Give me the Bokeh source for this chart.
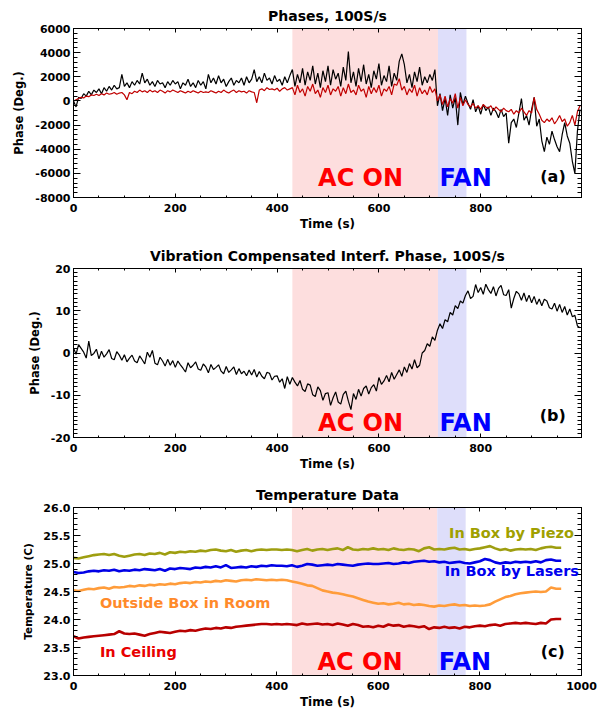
from bokeh.plotting import figure
from bokeh.layouts import column
from bokeh.models import (BoxAnnotation, Label, LinearAxis, SingleIntervalTicker,
                          PrintfTickFormatter, CustomJSTickFormatter, Range1d)
from bokeh.embed import file_html
from bokeh.resources import INLINE

FONT = "DejaVu Sans"

# ---------------- data ----------------
# Panel (a): phases sampled every 5 s, 0..995 s
t_a = list(range(0, 1000, 5))
phase_black = [
    0, -500, 300, 200, 600, 400, 800, 500, 900, 700, 1000, 600, 1100, 800, 1200, 900, 1300, 1000, 1100, 2200,
    1200, 1500, 1100, 1600, 1300, 1700, 1400, 2300,
    1500, 1800, 1300, 1600, 1200, 1700, 1400, 1500, 1100, 1600, 1300, 1700,
    1400, 1600, 1000, 1500, 1300, 1800, 1200, 1500, 1100, 1700, 1300, 1600, 1000,
    2200, 1500, 1900, 1400, 2100, 1500, 1800, 1200, 1600, 1900, 1300, 1700, 1500, 1900, 1300, 2000, 1500, 1800, 2600,
    1600, 2000, 1500, 2300, 1700, 1900, 1400, 2100, 1600, 1800, 1300, 2000, 1500, 2100,
    2600, 1200, 2200, 1500, 2700, 1300, 2400, 1700, 2900, 1400, 2300, 1100, 2500, 1600, 2900, 1300, 2600, 1800, 2300, 1200,
    2800, 1700, 4100, 1500, 2400, 1200, 2700, 1600, 3000, 1400, 2200, 1100, 2500, 1800, 3100, 1300, 2100, 1600, 2900, 1200,
    2300, 1700, 3300, 3900, 3000, 1500, 2200, 1100, 2400, 1600, 2800, 1300, 2000, 1500, 2200, 1700, 2600,
    -400, 600, -800, 200, -1200, 500, -600, 300, -2000, 700, -300, 400,
    -200, -700, 100, -900, -400, -1100, -300, -800, -500, -1200, -600, -900, -1400, -700, -1300, -1000,
    -3500, -1800, -1500, -2200, -1000, 200, -1600, -1200, -2000, -700, 300, -2100, -1500, -3300, -4200,
    -3000, -3600, -2500, -3200, -3800, -4200, -2800, -1800, -2900, -3500, -5000, -6000, -2500, -700,
]
phase_red = [
    0, 100, 200, 300, 250, 400, 350, 500, 450, 550, 450, 600, 500, 650, 550, 600, 700, 550, 650, 700,
    500, 100, 700, 600, 800, 700, 900, 750,
    850, 700, 900, 750, 850, 700, 900, 800, 650, 850, 750, 900,
    800, 700, 850, 750, 650, 800, 700, 850, 750, 650, 800, 700, 750,
    700, 850, 750, 650, 800, 700, 900, 750, 650, 800, 900, 700, 850, 750, 800, 650, 850, 750, 700,
    -150, 900, 1000, 850, 1100, 950, 1000, 900, 1050, 800, 1000, 1100, 900, 1000,
    1100, 500, 1300, 700, 1000, 400, 1200, 800, 1400, 600,
    900, 300, 1100, 700, 1300, 500, 1000, 800, 1200, 400,
    1100, 600, 1400, 700, 900, 500, 1300, 800, 1000, 300,
    1200, 600, 1100, 700, 1300, 400, 1000, 800, 1200, 500,
    1400, 1300, 1850, 900, 1200, 500, 1000, 700, 1300, 400,
    1100, 600, 900, 500, 1200, 700, 1000,
    0, 500, -300, 400, -500, 200, -200, 600, -600, 300, -400, 100,
    -300, -500, -200, -600, -400, -700, -300, -500, -600, -400, -800, -500, -700, -900, -600, -800,
    -900, -700, -1100, -800, -1000, -600, -900, -1200, -800, -1000, 300, -700, -1100, -1600, -1800,
    -1500, -1700, -1400, -1900, -1600, -1200, -1700, -1500, -2100, -1800, -1200, -2000, -900, -400,
]

# Panel (b): compensated phase, every 5 s
t_b = list(range(0, 1000, 5))
comp_phase = [
    1.2, -0.3, 2.0, 1.1, 0.2, -1.2, 2.8, -0.6, -0.1, 0.9, -1.4, 0.4, -1.0, -0.2, 0.8, -1.3, -1.6, 0.3, -0.5, -1.7,
    -0.4, -2.1, -1.2, -0.5, -1.9, -2.3, -0.7, -1.6, -2.6, 0.2, -1.0, 0.6, -2.4, -2.8, -1.0, -1.9, -3.1, -1.5, -2.9, -1.8,
    -3.4, -1.9, -2.8, -3.6, -4.5, -2.3, -3.5, -2.9, -2.1, -3.8, -4.1, -2.6, -3.3, -4.7, -2.7, -3.9, -3.4, -2.8, -4.3, -4.9,
    -3.2, -4.6, -4.0, -3.3, -5.1, -3.7, -4.9, -4.3, -5.4, -4.0, -5.2, -3.9, -5.7, -4.4, -5.5, -6.1, -4.6, -4.8, -6.4, -5.5,
    -5.4, -6.9, -6.1, -8.4, -5.6, -7.4, -5.8, -6.9, -7.8, -6.5, -8.6, -9.1, -7.3, -7.6, -9.9, -10.3, -8.0, -8.9, -11.2, -9.6,
    -9.4, -12.4, -10.6, -9.2, -11.6, -12.1, -9.8, -9.0, -11.4, -13.4, -9.6, -11.0, -8.6, -10.2, -8.4, -7.8, -9.7, -8.2, -7.5, -9.0,
    -5.8, -7.4, -6.6, -5.3, -6.8, -4.6, -6.2, -5.1, -4.0, -5.5, -3.3, -4.6, -2.5, -3.8, -1.6, -3.5, -2.9, 0.0, 0.6, 2.2,
    1.6, 3.8, 3.0, 5.4, 6.9, 5.8, 7.9, 7.4, 9.6, 9.0, 11.2, 10.5, 12.3, 11.8, 13.6, 14.7, 12.9, 13.4, 16.2, 14.3,
    15.5, 13.9, 16.3, 15.0, 14.1, 15.7, 13.5, 15.3, 16.0, 13.8, 13.6, 15.0, 10.6, 12.9, 14.6, 14.0, 12.5, 14.2, 12.2, 13.7,
    11.9, 13.4, 11.5, 12.8, 11.2, 12.7, 12.3, 10.7, 10.4, 11.8, 9.9, 11.5, 9.6, 11.0, 9.0, 10.4, 8.6, 8.9, 6.4, 6.0,
]

# Panel (c): temperatures every 10 s, 0..960 s
t_c = list(range(0, 970, 10))
temp_piezo = [
    25.10, 25.09, 25.11, 25.13, 25.15, 25.16, 25.17, 25.15, 25.17, 25.14,
    25.12, 25.14, 25.16, 25.17, 25.15, 25.18, 25.17, 25.19, 25.16, 25.20,
    25.19, 25.21, 25.20, 25.22, 25.21, 25.23, 25.22, 25.24, 25.25, 25.23,
    25.22, 25.24, 25.21, 25.23, 25.24, 25.22, 25.24, 25.25, 25.24, 25.25,
    25.25, 25.24, 25.25, 25.24, 25.22, 25.24, 25.26, 25.23, 25.25, 25.26,
    25.24, 25.26, 25.27, 25.24, 25.29, 25.25, 25.24, 25.26, 25.25, 25.27,
    25.25, 25.26, 25.24, 25.27, 25.25, 25.24, 25.26, 25.25, 25.22, 25.27,
    25.29, 25.25, 25.26, 25.25, 25.27, 25.28, 25.25, 25.26, 25.24, 25.26,
    25.27, 25.29, 25.31, 25.27, 25.24, 25.26, 25.23, 25.25, 25.26, 25.25,
    25.26, 25.24, 25.27, 25.29, 25.30, 25.28, 25.28,
]
temp_lasers = [
    24.85, 24.83, 24.84, 24.86, 24.87, 24.86, 24.88, 24.87, 24.89, 24.86,
    24.88, 24.87, 24.89, 24.88, 24.90, 24.89, 24.88, 24.90, 24.87, 24.91,
    24.90, 24.92, 24.91, 24.90, 24.93, 24.92, 24.94, 24.93, 24.95, 24.93,
    24.97, 24.92, 24.93, 24.94, 24.93, 24.95, 24.94, 24.96, 24.95, 24.97,
    24.96, 24.96, 24.95, 24.97, 24.94, 24.96, 24.99, 24.98, 24.96, 24.97,
    24.98, 24.97, 24.99, 24.98, 24.97, 24.96, 24.98, 24.99, 25.00, 24.99,
    24.99, 25.00, 25.01, 24.99, 25.00, 25.02, 25.01, 25.03, 25.04, 25.05,
    25.03, 25.04, 25.02, 25.03, 25.01, 25.02, 25.03, 25.01, 25.00, 25.02,
    25.04, 25.08, 25.06, 25.02, 25.00, 25.02, 25.01, 25.03, 25.02, 25.03,
    25.02, 25.04, 25.02, 25.06, 25.07, 25.05, 25.05,
]
temp_room = [
    24.52, 24.51, 24.53, 24.55, 24.54, 24.56, 24.57, 24.55, 24.58, 24.57,
    24.58, 24.60, 24.59, 24.61, 24.60, 24.62, 24.61, 24.63, 24.62, 24.64,
    24.63, 24.65, 24.66, 24.65, 24.67, 24.66, 24.68, 24.67, 24.69, 24.68,
    24.70, 24.69, 24.68, 24.70, 24.71, 24.70, 24.72, 24.71, 24.70, 24.71,
    24.70, 24.71, 24.70, 24.68, 24.66, 24.64, 24.61, 24.60, 24.56, 24.52,
    24.50, 24.48, 24.47, 24.45, 24.43, 24.41, 24.38, 24.35, 24.32, 24.30,
    24.28, 24.29, 24.27, 24.28, 24.30, 24.27, 24.28, 24.26, 24.27, 24.26,
    24.24, 24.23, 24.25, 24.24, 24.26, 24.27, 24.25, 24.26, 24.24, 24.25,
    24.24, 24.25, 24.27, 24.32, 24.36, 24.40, 24.42, 24.45, 24.47, 24.48,
    24.49, 24.50, 24.49, 24.50, 24.57, 24.55, 24.55,
]
temp_ceiling = [
    23.70, 23.66, 23.68, 23.69, 23.70, 23.71, 23.72, 23.73, 23.74, 23.79,
    23.75, 23.74, 23.75, 23.73, 23.71, 23.74, 23.76, 23.78, 23.77, 23.76,
    23.78, 23.80, 23.79, 23.81, 23.80, 23.82, 23.84, 23.83, 23.85, 23.84,
    23.86, 23.85, 23.87, 23.88, 23.89, 23.90, 23.91, 23.92, 23.92, 23.91,
    23.92, 23.91, 23.92, 23.91, 23.90, 23.93, 23.91, 23.92, 23.93, 23.91,
    23.92, 23.90, 23.93, 23.91, 23.89, 23.92, 23.90, 23.87, 23.88, 23.86,
    23.89, 23.87, 23.91, 23.89, 23.90, 23.87, 23.89, 23.88, 23.86, 23.88,
    23.83, 23.86, 23.85, 23.87, 23.85, 23.86, 23.84, 23.87, 23.86, 23.88,
    23.89, 23.88, 23.90, 23.91, 23.89, 23.92, 23.93, 23.94, 23.93, 23.94,
    23.93, 23.92, 23.94, 23.93, 24.00, 24.01, 24.01,
]

ac_on = (430, 716)
fan_on = (716, 772)

titles = ["Phases, 100S/s", "Vibration Compensated Interf. Phase, 100S/s", "Temperature Data"]
ylabels = ["Phase (Deg.)", "Phase (Deg.)", "Temperature (C)"]


def style_axis(ax, major_in, minor_in, labels=True, label_size="11px"):
    ax.axis_line_color = "black"
    ax.axis_line_width = 1
    ax.major_tick_line_color = "black"
    ax.minor_tick_line_color = "black"
    ax.major_tick_in = major_in
    ax.major_tick_out = 0
    ax.minor_tick_in = minor_in
    ax.minor_tick_out = 0
    ax.major_label_text_font = FONT
    ax.major_label_text_font_style = "bold"
    ax.major_label_text_color = "black"
    ax.major_label_text_font_size = label_size
    if not labels:
        ax.formatter = CustomJSTickFormatter(code="return '';")
        ax.major_label_standoff = 0
    ax.axis_label_text_font = FONT
    ax.axis_label_text_font_style = "bold"
    ax.axis_label_text_color = "black"


def make_fig(height, title, ylabel, xmax, yr, yint, yminor, yfmt, top, bottom, ylab_size):
    p = figure(width=603, height=height, x_range=Range1d(0, xmax), y_range=Range1d(*yr),
               output_backend="svg", toolbar_location=None,
               min_border_left=73, min_border_right=22, min_border_top=top, min_border_bottom=bottom)
    p.title.text = title
    p.title.align = "center"
    p.title.text_font = FONT
    p.title.text_font_style = "bold"
    p.title.text_font_size = "14px"
    p.title.text_color = "black"
    p.grid.visible = False
    p.outline_line_color = "black"
    p.outline_line_width = 1

    xa = p.xaxis[0]
    xa.ticker = SingleIntervalTicker(interval=200, num_minor_ticks=4)
    style_axis(xa, 4, 2)
    xa.axis_label = "Time (s)"
    xa.axis_label_text_font_size = "12px"
    xa.major_label_standoff = 6
    xa.axis_label_standoff = 2

    ya = p.yaxis[0]
    ya.ticker = SingleIntervalTicker(interval=yint, num_minor_ticks=yminor)
    ya.formatter = PrintfTickFormatter(format=yfmt)
    style_axis(ya, 7, 4)
    ya.axis_label = ylabel
    ya.axis_label_text_font_size = ylab_size
    ya.major_label_standoff = 3
    ya.axis_label_standoff = 6

    top_ax = LinearAxis(ticker=SingleIntervalTicker(interval=200, num_minor_ticks=4))
    style_axis(top_ax, 4, 2, labels=False)
    p.add_layout(top_ax, "above")
    right_ax = LinearAxis(ticker=SingleIntervalTicker(interval=yint, num_minor_ticks=yminor))
    style_axis(right_ax, 7, 4, labels=False)
    p.add_layout(right_ax, "right")

    p.add_layout(BoxAnnotation(left=ac_on[0], right=ac_on[1], fill_color="#FDDEDE",
                               fill_alpha=1.0, line_alpha=0, level="underlay"))
    p.add_layout(BoxAnnotation(left=fan_on[0], right=fan_on[1], fill_color="#DEDEFA",
                               fill_alpha=1.0, line_alpha=0, level="underlay"))
    return p


def add_label(p, x, y, text, color, size, align="left"):
    p.add_layout(Label(x=x, y=y, text=text, text_color=color, text_font=FONT,
                       text_font_style="bold", text_font_size=size, text_align=align,
                       text_baseline="alphabetic"))


def region_labels(p, y_base, y_tag, tag):
    add_label(p, 564, y_base, "AC ON", "#FF0000", "24px", "center")
    add_label(p, 719, y_base, "FAN", "#0000FF", "24px", "left")
    add_label(p, 967, y_tag, tag, "black", "16px", "right")


# Panel (a)
pa = make_fig(240, titles[0], ylabels[0], 998, (-8000, 6000), 2000, 5, "%d", 26, 43, "11.5px")
pa.line(t_a, phase_black, line_color="black", line_width=1.2)
pa.line(t_a, phase_red, line_color="#C00000", line_width=1.2)
region_labels(pa, -6350, -6250, "(a)")

# Panel (b)
pb = make_fig(238, titles[1], ylabels[1], 998, (-20, 20), 10, 10, "%d", 28, 41, "11.5px")
pb.line(t_b, comp_phase, line_color="black", line_width=1.2)
region_labels(pb, -16.6, -14.9, "(b)")

# Panel (c)
pc = make_fig(235, titles[2], ylabels[2], 1000, (23.0, 26.0), 0.5, 5, "%.1f", 29, 38, "10.5px")
pc.line(t_c, temp_piezo, line_color="#9E9E10", line_width=2.6)
pc.line(t_c, temp_lasers, line_color="#0000E6", line_width=2.6)
pc.line(t_c, temp_room, line_color="#FF9C3A", line_width=2.6)
pc.line(t_c, temp_ceiling, line_color="#B80000", line_width=2.6)
region_labels(pc, 23.24, 23.43, "(c)")
add_label(pc, 985, 25.54, "In Box by Piezo", "#A0A000", "14.5px", "right")
add_label(pc, 995, 24.87, "In Box by Lasers", "#0000EE", "14.5px", "right")
add_label(pc, 52, 24.30, "Outside Box in Room", "#FF8A2A", "14.5px", "left")
add_label(pc, 52, 23.42, "In Ceiling", "#E80000", "14.5px", "left")

layout = column(pa, pb, pc, spacing=0)
open("out.html", "w").write(file_html(layout, INLINE))
